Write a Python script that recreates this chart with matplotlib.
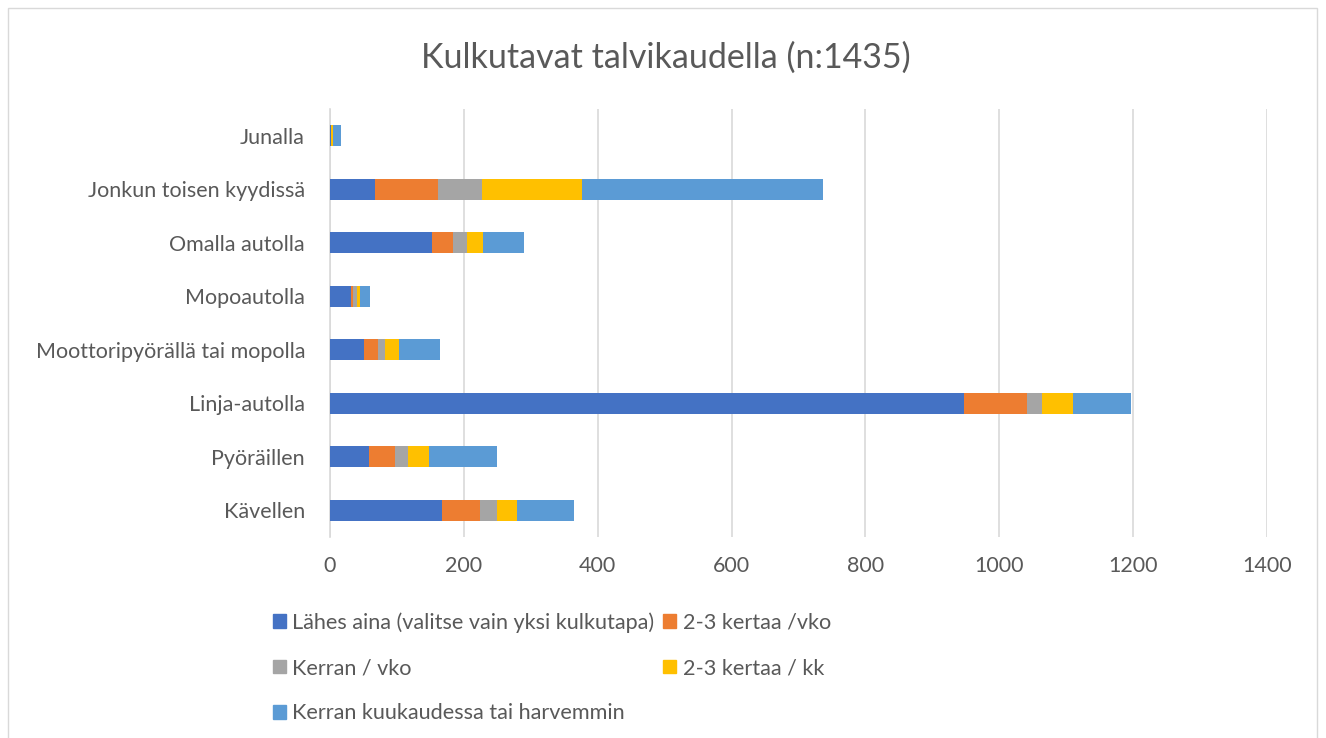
import numpy as np
import matplotlib.pyplot as plt
from matplotlib.patches import Rectangle, Patch

plt.rcParams['font.family'] = ['Lato', 'DejaVu Sans']

# categories, top to bottom as shown
categories = ['Junalla', 'Jonkun toisen kyydissä', 'Omalla autolla', 'Mopoautolla',
              'Moottoripyörällä tai mopolla', 'Linja-autolla', 'Pyöräillen', 'Kävellen']

series_names = ['Lähes aina (valitse vain yksi kulkutapa)', '2-3 kertaa /vko',
                'Kerran / vko', '2-3 kertaa / kk', 'Kerran kuukaudessa tai harvemmin']

lahes_aina = [1, 67, 152, 32, 50, 948, 58, 168]
kertaa_vko = [0, 94, 32, 3, 21, 93, 39, 56]
kerran_vko = [1, 66, 21, 6, 11, 23, 19, 26]
kertaa_kk = [2, 149, 23, 4, 21, 46, 32, 30]
kerran_kk = [12, 361, 62, 14, 61, 87, 101, 84]

colors = ['#4472C4', '#ED7D31', '#A5A5A5', '#FFC000', '#5B9BD5']
text_col = '#595959'

fig = plt.figure(figsize=(13.26, 7.38), dpi=100, facecolor='w')
ax = fig.add_axes([0.2489, 0.2724, 0.7066, 0.5799])

y = np.arange(len(categories))
left = np.zeros(len(categories))
for vals, c, name in zip([lahes_aina, kertaa_vko, kerran_vko, kertaa_kk, kerran_kk], colors, series_names):
    ax.barh(y, vals, left=left, height=0.4, color=c, label=name, zorder=3)
    left += np.array(vals)

ax.set_ylim(len(categories) - 0.5, -0.5)
ax.set_xlim(0, 1400)
ax.set_xticks(range(0, 1401, 200))
ax.set_yticks(y)
ax.set_yticklabels(categories)
ax.tick_params(axis='both', length=0, labelsize=15.5, colors=text_col)
ax.tick_params(axis='x', pad=14)
ax.tick_params(axis='y', pad=18)
ax.grid(True, axis='x', color='#D9D9D9', lw=1.2, zorder=0)
for s in ['top', 'right', 'bottom']:
    ax.spines[s].set_visible(False)
ax.spines['left'].set_color('#D9D9D9')
ax.spines['left'].set_linewidth(1.2)

fig.text(0.502, 0.922, 'Kulkutavat talvikaudella (n:1435)', ha='center', va='center',
         fontsize=24.5, color=text_col)

handles = [Patch(color=c) for c in colors]
order = [0, 2, 4, 1, 3]
fig.legend([handles[i] for i in order], [series_names[i] for i in order],
           ncol=2, loc='upper left', bbox_to_anchor=(0.191, 0.197), frameon=False,
           fontsize=15.6, labelcolor=text_col, handlelength=0.6, handleheight=0.6,
           handletextpad=0.3, columnspacing=0.4, labelspacing=1.17)

fig.patches.append(Rectangle((8 / 1326, -0.01), 1309 / 1326, 1 - 8 / 738 + 0.01,
                             transform=fig.transFigure, fill=False, ec='#D9D9D9', lw=1))

fig.savefig('out.png', dpi=100)
